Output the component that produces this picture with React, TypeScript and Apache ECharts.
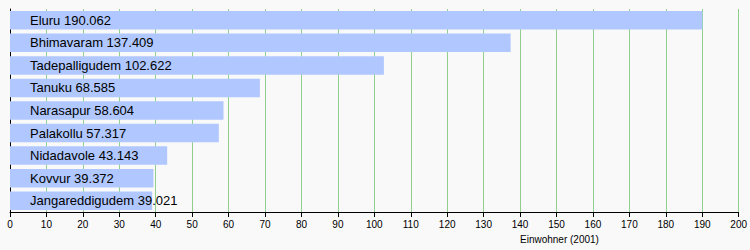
import React, { useEffect, useRef } from "react";
import * as echarts from "echarts";

const cities = [
  "Eluru",
  "Bhimavaram",
  "Tadepalligudem",
  "Tanuku",
  "Narasapur",
  "Palakollu",
  "Nidadavole",
  "Kovvur",
  "Jangareddigudem",
];
const population = [190.062, 137.409, 102.622, 68.585, 58.604, 57.317, 43.143, 39.372, 39.021];
const axisTitle = "Einwohner (2001)";

export default function App() {
  const ref = useRef<HTMLDivElement>(null);
  useEffect(() => {
    document.body.style.margin = "0";
    const chart = echarts.init(ref.current!, null, { renderer: "svg" });
    chart.setOption({
      animation: false,
      backgroundColor: "#f9f9f9",
      textStyle: { fontFamily: "Liberation Sans" },
      grid: { left: 10, right: 9, top: 9, bottom: 38 },
      xAxis: {
        type: "value",
        min: 0,
        max: 200,
        interval: 10,
        axisLine: { show: true, lineStyle: { color: "#000", width: 1 } },
        axisTick: { show: true, length: 5, lineStyle: { color: "#000" } },
        axisLabel: { color: "#000", fontSize: 10, margin: 7, fontFamily: "Liberation Sans" },
        splitLine: { show: true, lineStyle: { color: "#8fd08f", width: 1 } },
      },
      yAxis: {
        type: "category",
        data: cities,
        inverse: true,
        axisLine: { show: true, lineStyle: { color: "#000", width: 1 } },
        axisTick: { show: false },
        axisLabel: { show: false },
        splitLine: { show: false },
      },
      graphic: [
        {
          type: "text",
          left: 520,
          top: 234,
          style: { text: axisTitle, fontSize: 10, fill: "#000", fontFamily: "Liberation Sans" },
        },
      ],
      series: [
        {
          type: "bar",
          data: population,
          barCategoryGap: "18%",
          itemStyle: { color: "#b0c8ff" },
          label: {
            show: true,
            position: "insideLeft",
            distance: 20,
            color: "#000",
            fontSize: 13,
            fontFamily: "Liberation Sans",
            formatter: (p: any) => `${p.name} ${p.value.toFixed(3)}`,
          },
        },
      ],
    });
    return () => chart.dispose();
  }, []);
  return <div ref={ref} style={{ width: 750, height: 250 }} />;
}
